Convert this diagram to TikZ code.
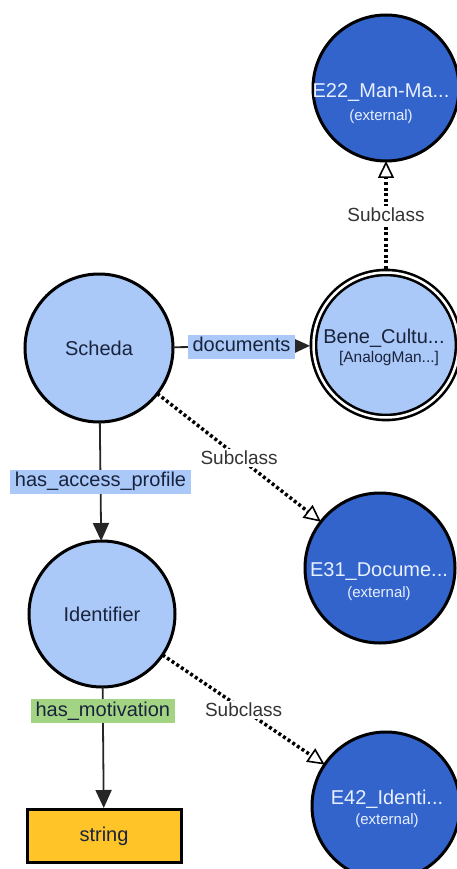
\documentclass[tikz,border=0pt]{standalone}
\usepackage{fontspec}
\setmainfont{Liberation Sans}
\usetikzlibrary{arrows.meta}
\definecolor{classfill}{RGB}{170,201,248}
\definecolor{classtext}{RGB}{25,35,60}
\definecolor{extfill}{RGB}{50,100,204}
\definecolor{exttext}{RGB}{232,240,255}
\definecolor{propfill}{RGB}{170,201,248}
\definecolor{motivfill}{RGB}{163,212,132}
\definecolor{stringfill}{RGB}{255,196,40}
\begin{document}
\begin{tikzpicture}[x=1pt, y=-1pt,
    classnode/.style={circle, draw=black, line width=3pt, fill=classfill, inner sep=0pt, outer sep=0pt, minimum size=148pt, text=classtext, font=\fontsize{20}{23}\selectfont},
    mainnode/.style={circle, draw=black, line width=2.6pt, double=white, double distance=2.5pt, fill=classfill, inner sep=0pt, outer sep=3.5pt, minimum size=145pt},
    extnode/.style={circle, draw=black, line width=3pt, fill=extfill, inner sep=0pt, outer sep=0pt, minimum size=146pt},
    extname/.style={text=exttext, font=\fontsize{20}{23}\selectfont, inner sep=0pt},
    extnote/.style={text=exttext, font=\fontsize{15}{17}\selectfont, inner sep=0pt},
    boxnode/.style={rectangle, draw=black, line width=3pt, fill=stringfill, minimum width=154pt, minimum height=53pt, text=classtext, font=\fontsize{20}{23}\selectfont},
    proplabel/.style={fill=propfill, text=classtext, font=\fontsize{20}{23}\selectfont, text height=14pt, text depth=4pt, inner xsep=5pt, inner ysep=3pt},
    motivlabel/.style={proplabel, fill=motivfill},
    subclasslabel/.style={fill=white, text=black!80, font=\fontsize{19}{22}\selectfont, inner sep=2pt},
    relation/.style={draw=black!85, line width=1.8pt, -{Triangle[length=18pt, width=16pt]}},
    subclassof/.style={draw=black, line width=3.5pt, dash pattern=on 3pt off 2.6pt, -{Triangle[open, length=17pt, width=16pt, line width=1.6pt, fill=white]}}
]
    \useasboundingbox (0,0) rectangle (456,869);
    \node [extnode] (e22) at (386,88) {};
    \node [mainnode] (bene) at (386,345) {};
    \node [classnode] (scheda) at (99,348) {Scheda};
    \node [extnode, minimum size=150pt] (e31) at (380,568) {};
    \node [classnode, minimum size=146pt] (identifier) at (102,614) {Identifier};
    \node [extnode, minimum size=148pt] (e42) at (386,806) {};
    \node [boxnode] (string) at (104,836) {string};
    \node [extname] (e22name) at (381,93) {E22\_Man-Ma...};
    \node [extnote] (e22note) at (381,117) {(external)};
    \node [text=classtext, font=\fontsize{20}{23}\selectfont, inner sep=0pt] (benename) at (384,338) {Bene\_Cultu...};
    \node [text=classtext, font=\fontsize{15.5}{18}\selectfont, inner sep=0pt] (benetype) at (389,358) {[AnalogMan...]};
    \node [extname] (e31name) at (379,571) {E31\_Docume...};
    \node [extnote] (e31note) at (379,594) {(external)};
    \node [extname] (e42name) at (387,799) {E42\_Identi...};
    \node [extnote] (e42note) at (387,821) {(external)};
    \draw [relation] (scheda) -- node [proplabel] {documents} (bene);
    \draw [relation] (scheda) -- node [proplabel] {has\_access\_profile} (identifier);
    \draw [relation] (identifier) -- node [motivlabel, pos=0.2] {has\_motivation} (string);
    \draw [subclassof] (bene) -- node [subclasslabel] {Subclass} (e22);
    \draw [subclassof] (scheda) -- node [subclasslabel] {Subclass} (e31);
    \draw [subclassof] (identifier) -- node [subclasslabel] {Subclass} (e42);
\end{tikzpicture}
\end{document}
